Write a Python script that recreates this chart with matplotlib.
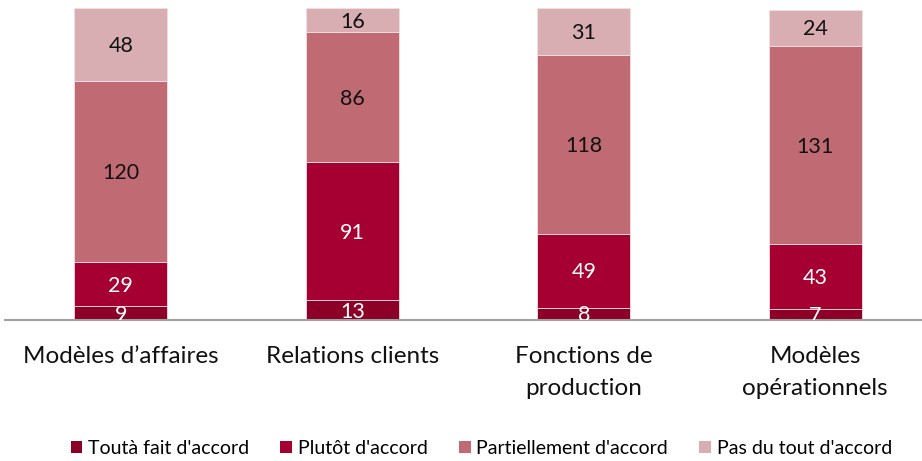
import matplotlib
matplotlib.use("Agg")
import matplotlib.pyplot as plt
import numpy as np

plt.rcParams['font.family'] = ['Lato', 'DejaVu Sans']

categories = ["Modèles d’affaires", "Relations clients", "Fonctions de\nproduction", "Modèles\nopérationnels"]
series_names = ["Toutà fait d'accord", "Plutôt d'accord", "Partiellement d'accord", "Pas du tout d'accord"]
tout_a_fait = [9, 13, 8, 7]
plutot = [29, 91, 49, 43]
partiellement = [120, 86, 118, 131]
pas_du_tout = [48, 16, 31, 24]

colors = ["#8c0027", "#a60032", "#c06b73", "#d8aeb2"]
text_colors = ["white", "white", "#111111", "#111111"]

fig = plt.figure(figsize=(9.22, 4.61), dpi=100)
ax = fig.add_axes([5 / 922, 141 / 461, 926 / 922, 312 / 461])

x = np.arange(len(categories))
bottom = np.zeros(len(categories))
for vals, name, col, tcol in zip([tout_a_fait, plutot, partiellement, pas_du_tout],
                                 series_names, colors, text_colors):
    vals = np.array(vals, dtype=float)
    ax.bar(x, vals, 0.40, bottom=bottom, color=col, edgecolor="#f3dfe2",
           linewidth=0.6, label=name)
    for xi, v, b in zip(x, vals, bottom):
        ax.text(xi, b + v / 2 - 1, f"{int(v)}", ha="center", va="center",
                fontsize=15.5, color=tcol, clip_on=True)
    bottom += vals

ax.set_xlim(-0.5, 3.5)
ax.set_ylim(0, 206)
for s in ["top", "right", "left"]:
    ax.spines[s].set_visible(False)
ax.spines["bottom"].set_color("#a0a0a0")
ax.spines["bottom"].set_linewidth(1.5)
ax.set_yticks([])
ax.set_xticks(x)
ax.set_xticklabels(categories, fontsize=17.5, color="#111111", linespacing=1.6)
ax.tick_params(axis="x", length=0, pad=19)

handles, labels = ax.get_legend_handles_labels()
leg = fig.legend(handles, labels, loc="center", bbox_to_anchor=(0.522, 0.027),
                 ncol=4, frameon=False, fontsize=14, handlelength=0.6,
                 handleheight=0.6, handletextpad=0.3, columnspacing=1.6)
for h in leg.legend_handles:
    h.set_edgecolor("none")

fig.savefig("out.png", dpi=100)
